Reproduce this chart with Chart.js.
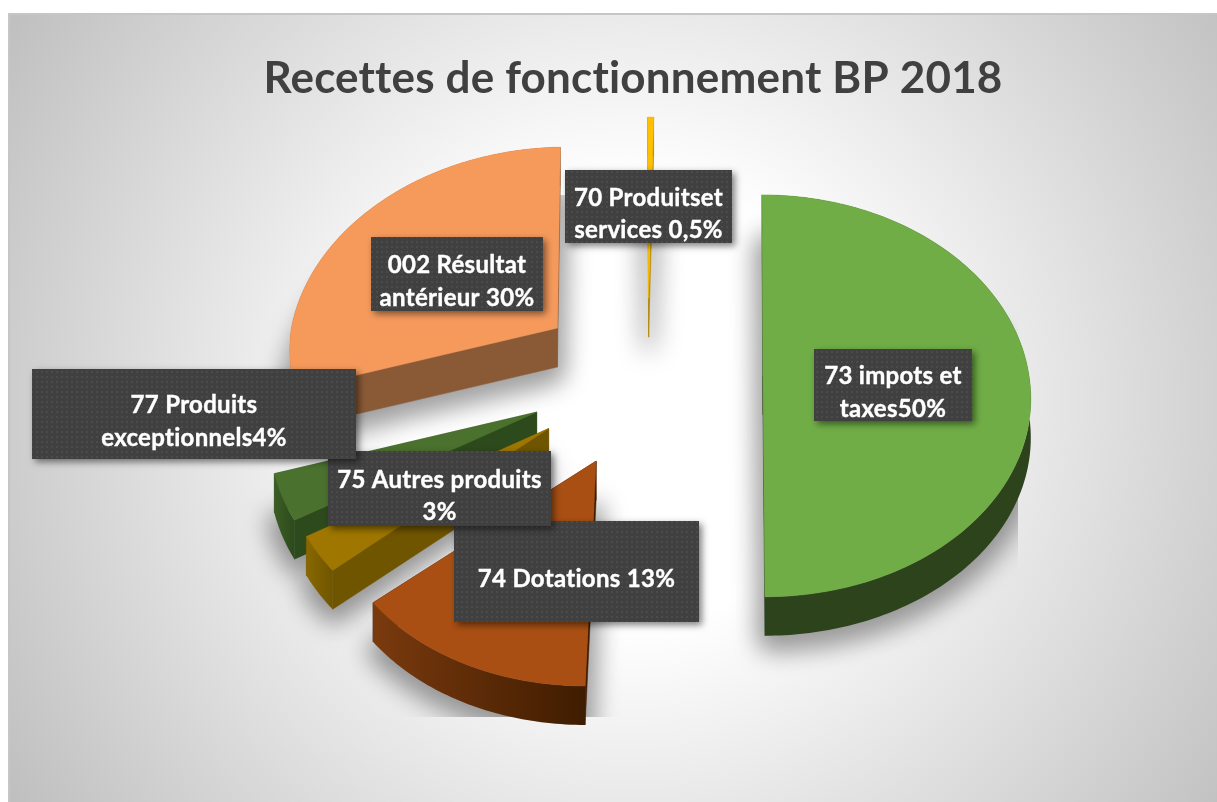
<!DOCTYPE html>
<html lang="fr">
<head>
<meta charset="utf-8">
<title>Recettes de fonctionnement BP 2018</title>
<script src="https://cdn.jsdelivr.net/npm/chart.js@4"></script>
<style>
	html, body { margin: 0; padding: 0; background: #fff; overflow: hidden; }
	canvas { display: block; }
</style>
</head>
<body>
<canvas id="myChart" width="1217" height="802"></canvas>
<script>
// values
const categories = ['73 impots et taxes', '74 Dotations', '75 Autres produits', '77 Produits exceptionnels', '002 Résultat antérieur', '70 Produits et services'];
const shares = [50, 13.6, 2.9, 3.7, 29.4, 0.4];
const sliceColors = ['#70AD47', '#A94F13', '#9E7600', '#4A712D', '#F69A5C', '#FFC000'];
const sliceOffsets = [113, 130, 125, 124, 114, 108]; // exploded distance of each slice
const leanFront = [2, -11, 0, 0, 0, 0]; // sideways pull of the camera, px at the front of a slice
const leanBack = [-1, 0, 0, 0, 9, 5]; // same at the back of a slice
const sliceSag = [-4, 0, 0, 0, 0, 0]; // same thing vertically, front half only

// darker faces of the 3d slices
const rimFrom = ['#2D431C', '#7A3A0E', '#8A6800', '#3B5E24', '#8A5A36', '#B38600'];
const rimTo = ['#2D431C', '#3F1C00', '#6F5500', '#2D4A1C', '#8A5A36', '#B38600'];
const cutFaces = ['#2D431C', '#3F1C00', '#6F5500', '#2D4A1C', '#8A5A36', '#B38600'];

const labelLines = [
	['73 impots et', 'taxes50%'],
	['74 Dotations 13%'],
	['75 Autres produits', '3%'],
	['77 Produits', 'exceptionnels4%'],
	['002 Résultat', 'antérieur 30%'],
	['70 Produitset', 'services 0,5%'],
];
const labelBoxes = [
	{ x: 814, y: 349, w: 158, h: 72 },
	{ x: 454, y: 521, w: 245, h: 101 },
	{ x: 328, y: 451, w: 223, h: 75 },
	{ x: 32, y: 369, w: 324, h: 90 },
	{ x: 371, y: 237, w: 172, h: 74 },
	{ x: 565, y: 170, w: 167, h: 73 },
];

const tilt = { shiftX: 17, squash: 0.754, offsetSquash: 0.72, perspective: 0.108, depth: 39 };

const wedgeGeometry = (arc, i) => {
	const { x, y, startAngle, endAngle, outerRadius } = arc.getProps(['x', 'y', 'startAngle', 'endAngle', 'outerRadius'], true);
	const mid = (startAngle + endAngle) / 2;
	const offset = arc.options.offset;
	const tipX = x + tilt.shiftX + Math.cos(mid) * offset;
	const tipY = y + Math.sin(mid) * offset * tilt.offsetSquash;
	const edge = [];
	const steps = Math.max(2, Math.ceil((endAngle - startAngle) * 60));
	for (let s = 0; s <= steps; s++) {
		const a = startAngle + ((endAngle - startAngle) * s) / steps;
		const sin = Math.sin(a);
		const w = 1 - tilt.perspective * sin;
		const lean = sin > 0 ? leanFront[i] * sin : -leanBack[i] * sin;
		edge.push([
			tipX + (outerRadius * Math.cos(a)) / w + lean,
			tipY + (outerRadius * tilt.squash * sin) / w + sliceSag[i] * Math.max(sin, 0),
		]);
	}
	return { tipX, tipY, edge, index: i };
};

const tracePoints = (ctx, points, dy = 0) => {
	ctx.beginPath();
	points.forEach((p, n) => (n ? ctx.lineTo(p[0], p[1] + dy) : ctx.moveTo(p[0], p[1] + dy)));
	ctx.closePath();
};

const fillQuad = (ctx, a, b, fill) => {
	const d = tilt.depth;
	ctx.fillStyle = fill;
	ctx.strokeStyle = fill;
	ctx.lineWidth = 0.5;
	tracePoints(ctx, [a, b, [b[0], b[1] + d], [a[0], a[1] + d]]);
	ctx.fill();
	ctx.stroke();
};

const drawShadow = (ctx, wedge) => {
	const far = 3000;
	const shape = [[wedge.tipX, wedge.tipY], ...wedge.edge];
	ctx.save();
	ctx.beginPath();
	ctx.rect(200, 195, 818, 522);
	ctx.clip();
	ctx.shadowColor = 'rgba(0,0,0,0.36)';
	ctx.shadowBlur = 26;
	ctx.shadowOffsetX = far;
	ctx.shadowOffsetY = tilt.depth + 8;
	ctx.translate(-far, 0);
	ctx.fillStyle = '#000';
	ctx.strokeStyle = '#000';
	ctx.lineWidth = 12;
	ctx.lineJoin = 'round';
	tracePoints(ctx, shape);
	ctx.fill();
	ctx.stroke();
	ctx.restore();
};

const drawWedge = (ctx, wedge, top) => {
	const i = wedge.index;
	const tip = [wedge.tipX, wedge.tipY];
	const first = wedge.edge[0];
	const last = wedge.edge[wedge.edge.length - 1];
	fillQuad(ctx, tip, first, cutFaces[i]);
	fillQuad(ctx, tip, last, cutFaces[i]);

	const xs = wedge.edge.map((p) => p[0]);
	const rim = ctx.createLinearGradient(Math.min(...xs), 0, Math.max(...xs), 0);
	rim.addColorStop(0, rimFrom[i]);
	rim.addColorStop(1, rimTo[i]);
	ctx.fillStyle = rim;
	tracePoints(ctx, [...wedge.edge, ...wedge.edge.map((p) => [p[0], p[1] + tilt.depth]).reverse()]);
	ctx.fill();

	ctx.fillStyle = top;
	ctx.strokeStyle = top;
	ctx.lineWidth = 0.5;
	tracePoints(ctx, [tip, ...wedge.edge]);
	ctx.fill();
	ctx.stroke();
};

const tiltedPie = {
	id: 'tiltedPie',
	beforeDraw: (chart) => {
		const { ctx, width, height } = chart;
		ctx.save();
		ctx.fillStyle = '#fff';
		ctx.fillRect(0, 0, width, height);
		const glow = ctx.createRadialGradient(630, 405, 0, 630, 405, 735);
		glow.addColorStop(0, '#ffffff');
		glow.addColorStop(0.3, '#ffffff');
		glow.addColorStop(1, '#bfbfbf');
		ctx.fillStyle = glow;
		ctx.fillRect(8, 14, width - 8, height - 14);
		ctx.fillStyle = '#c6c6c6';
		ctx.fillRect(8, 13, width - 8, 2);
		ctx.fillRect(8, 13, 2, height - 13);
		ctx.restore();
		ctx.letterSpacing = '0.18px'; // also stops the tt and ti ligatures of the title
	},
	beforeDatasetsDraw: (chart) => {
		const { ctx } = chart;
		const arcs = chart.getDatasetMeta(0).data;
		const wedges = arcs.map(wedgeGeometry).sort((a, b) => a.tipY - b.tipY);
		ctx.save();
		wedges.forEach((w) => drawShadow(ctx, w));
		wedges.forEach((w) => drawWedge(ctx, w, arcs[w.index].options.backgroundColor));
		ctx.restore();
		return false;
	},
	afterDraw: (chart) => {
		const { ctx } = chart;
		const dots = document.createElement('canvas');
		dots.width = 5;
		dots.height = 5;
		const d = dots.getContext('2d');
		d.fillStyle = '#404040';
		d.fillRect(0, 0, 5, 5);
		d.fillStyle = '#4b4b4b';
		d.fillRect(1, 1, 2, 2);
		const pattern = ctx.createPattern(dots, 'repeat');
		ctx.save();
		ctx.letterSpacing = '0.3px';
		labelBoxes.forEach((box, i) => {
			ctx.save();
			ctx.shadowColor = 'rgba(0,0,0,0.5)';
			ctx.shadowBlur = 7;
			ctx.shadowOffsetX = 3;
			ctx.shadowOffsetY = 3;
			ctx.fillStyle = pattern;
			ctx.fillRect(box.x, box.y, box.w, box.h);
			ctx.restore();
			const lines = labelLines[i];
			const midY = box.y + box.h / 2 + 8;
			ctx.fillStyle = '#fff';
			ctx.strokeStyle = '#fff';
			ctx.lineWidth = 0.4;
			ctx.font = 'bold 24px Lato';
			ctx.textAlign = 'center';
			ctx.textBaseline = 'middle';
			lines.forEach((line, n) => {
				const lineY = midY + (n - (lines.length - 1) / 2) * 32.5;
				ctx.fillText(line, box.x + box.w / 2, lineY);
				ctx.strokeText(line, box.x + box.w / 2, lineY);
			});
		});
		ctx.restore();
	},
};

new Chart(document.getElementById('myChart'), {
	type: 'pie',
	data: {
		labels: categories,
		datasets: [
			{
				data: shares,
				backgroundColor: sliceColors,
				offset: sliceOffsets,
				borderWidth: 0,
				radius: 266,
			},
		],
	},
	options: {
		responsive: false,
		animation: false,
		layout: { padding: { left: 49, bottom: 165 } },
		plugins: {
			legend: { display: false },
			tooltip: { enabled: false },
			title: {
				display: true,
				text: 'Recettes de fonctionnement BP 2018',
				color: '#404040',
				font: { family: 'Lato', weight: 'bold', size: 44 },
				padding: { top: 52, bottom: 10 },
			},
		},
	},
	plugins: [tiltedPie],
});
</script>
</body>
</html>
